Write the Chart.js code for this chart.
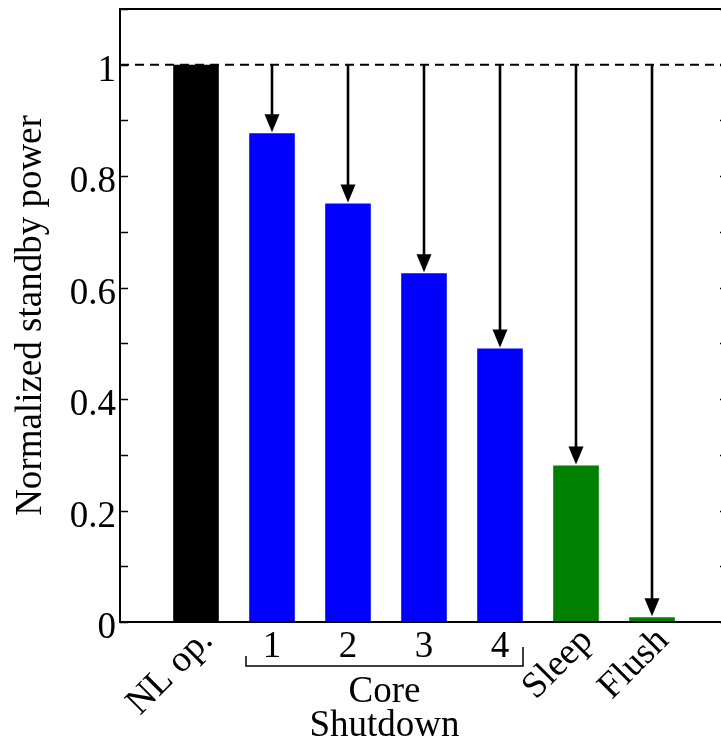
<!DOCTYPE html>
<html>
<head>
<meta charset="utf-8">
<script src="https://cdn.jsdelivr.net/npm/chart.js@4.4.1/dist/chart.umd.min.js"></script>
<style>
  html, body { margin: 0; padding: 0; background: #fff; overflow: hidden; }
  #wrap { width: 721px; height: 744px; overflow: hidden; }
</style>
</head>
<body>
<div id="wrap">
  <canvas id="standby" width="730" height="744"></canvas>
</div>
<script>
// normalized standby power per mode
const categories = ['NL op.', '1', '2', '3', '4', 'Sleep', 'Flush'];
const power = [1.0, 0.877, 0.751, 0.626, 0.491, 0.281, 0.0085];
const barColors = ['#000000', '#0000ff', '#0000ff', '#0000ff', '#0000ff', '#008000', '#008000'];
const rotatedLabel = [true, false, false, false, false, true, true];
const groupLabel = ['Core', 'Shutdown'];   // under bars 1..4
const groupFrom = 1, groupTo = 4;           // indexes into categories
const yTicks = [0, 0.2, 0.4, 0.6, 0.8, 1];
const yTickLabels = ['0', '0.2', '0.4', '0.6', '0.8', '1'];
const yMinorStep = 0.1;
const yMax = 1.1;
const reference = 1;
const yTitle = 'Normalized standby power';

const FONT = '37px "Liberation Serif", "Times New Roman", serif';

// one empty slot on each side of the bars
const labels = [''].concat(categories, ['']);
const values = [null].concat(power, [null]);
const colors = ['#000'].concat(barColors, ['#000']);

const decorations = {
    id: 'decorations',
    afterDatasetsDraw(chart) {
        const ctx = chart.ctx;
        const area = chart.chartArea;
        const x = chart.scales.x;
        const y = chart.scales.y;
        const yRef = y.getPixelForValue(reference);

        ctx.save();

        // dashed reference line at 1
        ctx.strokeStyle = '#000';
        ctx.lineWidth = 1.8;
        ctx.setLineDash([9, 6]);
        ctx.beginPath();
        ctx.moveTo(area.left, yRef);
        ctx.lineTo(area.right, yRef);
        ctx.stroke();
        ctx.setLineDash([]);

        // arrows from the reference down to each reduced bar
        for (let i = 1; i < categories.length; i++) {
            const cx = x.getPixelForValue(i + 1);
            const top = y.getPixelForValue(power[i]) - 1;
            const headH = 18, headW = 15;
            ctx.lineWidth = 2.6;
            ctx.beginPath();
            ctx.moveTo(cx, yRef);
            ctx.lineTo(cx, top - headH + 2);
            ctx.stroke();
            ctx.beginPath();
            ctx.moveTo(cx, top);
            ctx.lineTo(cx - headW / 2, top - headH);
            ctx.lineTo(cx + headW / 2, top - headH);
            ctx.closePath();
            ctx.fillStyle = '#000';
            ctx.fill();
        }

        // frame
        ctx.lineWidth = 2;
        ctx.strokeRect(area.left, area.top, area.right - area.left, area.bottom - area.top);

        // inward ticks, left and right
        ctx.lineWidth = 1.5;
        for (let v = 0; v <= yMax + 1e-9; v += yMinorStep) {
            const py = Math.round(y.getPixelForValue(v)) + 0.5;
            ctx.beginPath();
            ctx.moveTo(area.left, py);
            ctx.lineTo(area.left + 8, py);
            ctx.moveTo(area.right, py);
            ctx.lineTo(area.right - 8, py);
            ctx.stroke();
        }

        ctx.fillStyle = '#000';
        ctx.font = FONT;

        // y tick labels
        ctx.textAlign = 'right';
        ctx.textBaseline = 'alphabetic';
        yTicks.forEach((v, k) => {
            ctx.fillText(yTickLabels[k], area.left - 4, y.getPixelForValue(v) + 16);
        });

        // y title
        ctx.save();
        ctx.translate(41, (area.top + area.bottom) / 2);
        ctx.rotate(-Math.PI / 2);
        ctx.textAlign = 'center';
        ctx.fillText(yTitle, 0, 0);
        ctx.restore();

        // x labels
        categories.forEach((name, i) => {
            const cx = x.getPixelForValue(i + 1);
            if (rotatedLabel[i]) {
                ctx.save();
                ctx.translate(cx + 18, area.bottom + 20);
                ctx.rotate(-Math.PI / 4);
                ctx.textAlign = 'right';
                ctx.fillText(name, 0, 0);
                ctx.restore();
            } else {
                ctx.textAlign = 'center';
                ctx.fillText(name, cx, area.bottom + 35);
            }
        });

        // bracket under the core shutdown bars
        const bx0 = x.getPixelForValue(groupFrom + 1) - 26;
        const bx1 = x.getPixelForValue(groupTo + 1) + 23;
        const by = area.bottom + 44;
        ctx.lineWidth = 1.5;
        ctx.beginPath();
        ctx.moveTo(bx0, by - 10);
        ctx.lineTo(bx0, by);
        ctx.lineTo(bx1, by);
        ctx.lineTo(bx1, by - 19);
        ctx.stroke();

        ctx.textAlign = 'center';
        const gx = (bx0 + bx1) / 2;
        ctx.fillText(groupLabel[0], gx, area.bottom + 80);
        ctx.fillText(groupLabel[1], gx, area.bottom + 114);

        ctx.restore();
    }
};

new Chart(document.getElementById('standby'), {
    type: 'bar',
    data: {
        labels: labels,
        datasets: [{
            data: values,
            backgroundColor: colors,
            borderWidth: 0,
            categoryPercentage: 1,
            barPercentage: 0.6
        }]
    },
    options: {
        responsive: false,
        devicePixelRatio: 1,
        animation: false,
        layout: {
            padding: { left: 0, top: 9, right: 2, bottom: 122 }
        },
        plugins: {
            legend: { display: false },
            tooltip: { enabled: false }
        },
        scales: {
            x: {
                type: 'category',
                offset: false,
                grid: { display: false },
                border: { display: false },
                ticks: { display: false },
                afterFit: (scale) => { scale.height = 0; }
            },
            y: {
                min: 0,
                max: yMax,
                grid: { display: false },
                border: { display: false },
                ticks: { display: false },
                afterFit: (scale) => { scale.width = 120; }
            }
        }
    },
    plugins: [decorations]
});
</script>
</body>
</html>
